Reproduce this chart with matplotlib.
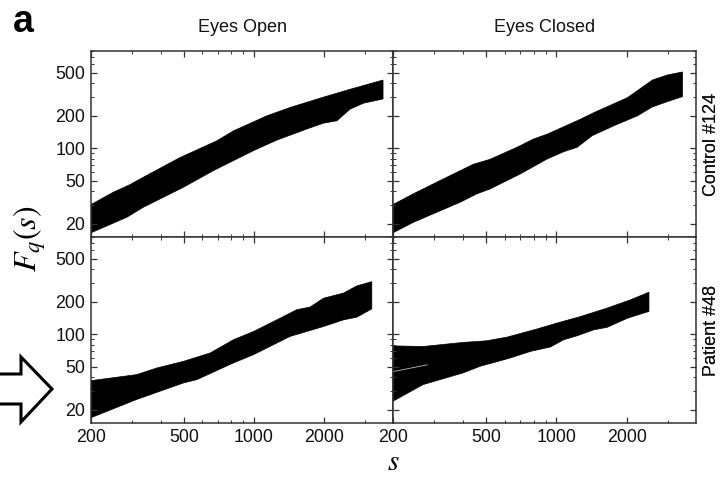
import numpy as np
import matplotlib
matplotlib.use("Agg")
import matplotlib.pyplot as plt
from matplotlib.patches import Polygon
from matplotlib.ticker import FixedLocator, NullFormatter, ScalarFormatter, LogLocator

plt.rcParams['font.family'] = ['Liberation Sans', 'DejaVu Sans']
plt.rcParams['mathtext.fontset'] = 'stix'

col_titles = ["Eyes Open", "Eyes Closed"]
row_labels = ["Control #124", "Patient #48"]
x_ticks = [200, 500, 1000, 2000]
y_ticks = [20, 50, 100, 200, 500]

# control, eyes open
co_s_up = [200, 249, 294, 347, 482, 692, 817, 1135, 1429, 1923, 2587, 3580]
co_f_up = [30, 39, 46, 56, 82, 117, 145, 200, 239, 292, 353, 430]
co_s_lo = [200, 285, 335, 498, 670, 995, 1253, 1686, 1987, 2270, 2587, 2950, 3580]
co_f_lo = [16.4, 22.9, 28.3, 43.4, 62, 95, 119, 151, 171, 180, 231, 262, 287]

# control, eyes closed
cc_s_up = [200, 244, 317, 441, 520, 677, 799, 911, 1266, 1444, 2011, 2571, 2980, 3460]
cc_f_up = [30, 37.7, 50, 71, 79, 102, 122, 135, 186, 214, 295, 430, 479, 511]
cc_s_lo = [200, 244, 387, 456, 520, 700, 911, 1075, 1225, 1422, 1762, 2218, 2571, 2980, 3460]
cc_f_lo = [16.4, 20.5, 31.5, 37.7, 41.9, 57.7, 79.4, 93, 102, 131, 162, 200, 242, 271, 302]

# patient, eyes open
po_s_up = [200, 314, 383, 498, 649, 817, 995, 1253, 1527, 1742, 1987, 2421, 2761, 3204]
po_f_up = [37.1, 42.2, 48.6, 56, 67, 89, 106, 136, 169, 179, 216, 241, 281, 308]
po_s_lo = [200, 314, 498, 569, 817, 995, 1429, 1987, 2421, 2761, 3204]
po_f_lo = [16.8, 24.8, 35.3, 37.9, 54.2, 64.6, 95.5, 118, 136, 144, 172]

# patient, eyes closed
pc_s_up = [200, 269, 399, 503, 614, 826, 1005, 1266, 1647, 2075, 2486]
pc_f_up = [78, 77, 84, 87, 94, 112, 127, 146, 175, 209, 246]
pc_s_lo = [200, 269, 399, 471, 634, 773, 942, 1075, 1225, 1444, 1647, 2011, 2486]
pc_f_lo = [23.9, 34.1, 43.8, 50.4, 60.2, 69.3, 76.2, 89, 96.8, 110, 116, 141, 163]
pc_seam_s = [200, 280]
pc_seam_f = [45, 52]

bands = [[(co_s_up, co_f_up, co_s_lo, co_f_lo), (cc_s_up, cc_f_up, cc_s_lo, cc_f_lo)],
         [(po_s_up, po_f_up, po_s_lo, po_f_lo), (pc_s_up, pc_f_up, pc_s_lo, pc_f_lo)]]

fig = plt.figure(figsize=(7.21, 4.84), dpi=100)
W, H = 721, 484
lefts = [91, 393]
widths = [302, 303]
tops = [51, 237]
height = 186

axes = [[None, None], [None, None]]
for r in range(2):
    for c in range(2):
        ax = fig.add_axes([lefts[c] / W, 1 - (tops[r] + height) / H, widths[c] / W, height / H])
        axes[r][c] = ax
        s_up, f_up, s_lo, f_lo = bands[r][c]
        xs = np.concatenate([s_up, s_lo[::-1]])
        ys = np.concatenate([f_up, f_lo[::-1]])
        ax.fill(xs, ys, color='black', lw=0.5, ec='black')
        ax.set_xscale('log')
        ax.set_yscale('log')
        ax.set_xlim(200, 3950)
        ax.set_ylim(15, 800)
        ax.xaxis.set_major_locator(FixedLocator(x_ticks))
        ax.xaxis.set_minor_locator(LogLocator(base=10, subs=np.arange(1, 10)))
        ax.yaxis.set_major_locator(FixedLocator(y_ticks))
        ax.yaxis.set_minor_locator(LogLocator(base=10, subs=np.arange(1, 10)))
        ax.xaxis.set_minor_formatter(NullFormatter())
        ax.yaxis.set_minor_formatter(NullFormatter())
        ax.xaxis.set_major_formatter(ScalarFormatter())
        ax.yaxis.set_major_formatter(ScalarFormatter())
        ax.tick_params(which='both', direction='in', top=True, right=True,
                       color='#333333', labelsize=12.8, labelcolor='#111111', pad=4)
        ax.tick_params(which='major', length=4, width=0.9)
        ax.tick_params(which='minor', length=2.5, width=0.7)
        for sp in ax.spines.values():
            sp.set_linewidth(1.1)
            sp.set_color('#333333')
        if c == 1:
            ax.tick_params(labelleft=False)
        if r == 0:
            ax.tick_params(labelbottom=False)
            fig.text((lefts[c] + widths[c] / 2) / W, 1 - 27 / H, col_titles[c],
                     fontsize=13, ha='center', va='center', color='#111111')
        fig.text(720 / W, 1 - (tops[r] + height / 2) / H, row_labels[r], rotation=90,
                 ha='right', va='center', fontsize=13, color='#111111')

axes[1][1].plot(pc_seam_s, pc_seam_f, color='#bbbbbb', lw=0.6)

fig.text(23 / W, 1 - 22 / H, "a", fontsize=27, fontweight='bold', ha='center', va='center')
fig.text(30 / W, 1 - 239 / H, "$F_q(s)$", fontsize=23, rotation=90, ha='center', va='center')
fig.text(393 / W, 1 - 462 / H, "$s$", fontsize=21, ha='center', va='center')

# outlined arrow on the left
arrow = [(-5, 374), (21, 374), (21, 357), (52, 389), (21, 422), (21, 404), (-5, 404)]
fig.patches.append(Polygon([(x / W, 1 - y / H) for x, y in arrow], closed=True,
                           transform=fig.transFigure, fc='white', ec='black', lw=2.2))

fig.savefig("out.png", dpi=100)
